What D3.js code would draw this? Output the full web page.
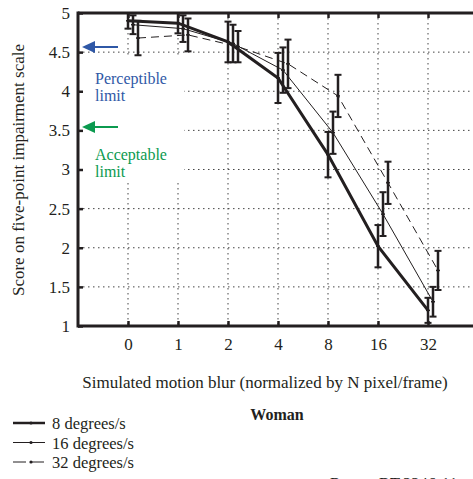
<!DOCTYPE html>
<html><head><meta charset="utf-8">
<script src="https://cdn.jsdelivr.net/npm/d3@7"></script>
<style>
html,body{margin:0;padding:0;background:#fff;overflow:hidden}
svg{display:block}
</style></head><body>
<svg id="c" width="473" height="479"></svg>
<script>
const categories = ["0","1","2","4","8","16","32"];
const yTicks = [1,1.5,2,2.5,3,3.5,4,4.5,5];
const seriesNames = ["8 degrees/s","16 degrees/s","32 degrees/s"];
const mean8  = [4.90,4.87,4.63,4.17,3.19,2.02,1.20];
const err8   = [0.10,0.13,0.26,0.32,0.29,0.27,0.16];
const mean16 = [4.85,4.80,4.61,4.27,3.47,2.43,1.31];
const err16  = [0.12,0.17,0.24,0.29,0.27,0.28,0.19];
const mean32 = [4.68,4.72,4.57,4.35,3.94,2.83,1.71];
const err32  = [0.22,0.21,0.20,0.31,0.27,0.27,0.25];
const limits = [{label:["Perceptible","limit"], value:4.6, color:"#2f58a6"},
                {label:["Acceptable","limit"], value:3.55, color:"#0b9a4f"}];

const FONT = "Liberation Serif, Times New Roman, Times, Tinos, Noto Serif, DejaVu Serif, FreeSerif, serif";
const INK = "#231f20";
const svg = d3.select("#c");
const x = d3.scaleLinear().domain([-1,8]).range([78,528]);
const y = d3.scaleLinear().domain([1,5]).range([326,13]);
const offsets = [0,0.1,0.2];
const series = [
  {name:seriesNames[0], m:mean8, e:err8, w:3, dash:null},
  {name:seriesNames[1], m:mean16, e:err16, w:1, dash:null},
  {name:seriesNames[2], m:mean32, e:err32, w:1, dash:"8,5"}
];
function txt(sel){ return sel.attr("font-family",FONT).style("font-family",FONT); }

// grid
const grid = svg.append("g").attr("stroke","#444").attr("stroke-width",1).attr("stroke-dasharray","1.5,3.5");
yTicks.filter(v=>v>1&&v<5).forEach(v=>{
  grid.append("line").attr("x1",x(-1)).attr("x2",473).attr("y1",y(v)).attr("y2",y(v));
});
categories.forEach((c,i)=>{
  grid.append("line").attr("x1",x(i)).attr("x2",x(i)).attr("y1",y(5)).attr("y2",y(1));
});
// white box behind limit labels
svg.append("rect").attr("x",x(-1)+1).attr("y",55).attr("width",105).attr("height",128).attr("fill","#fff");

// lines
const lineGen = (k)=>d3.line().x((d,i)=>x(i+offsets[k])).y(d=>y(d));
series.forEach((s,k)=>{
  svg.append("path").attr("d",lineGen(k)(s.m)).attr("fill","none").attr("stroke",INK)
    .attr("stroke-width",s.w).attr("stroke-dasharray",s.dash);
});
// error bars
series.forEach((s,k)=>{
  const g = svg.append("g").attr("stroke",INK);
  s.m.forEach((v,i)=>{
    const cx = x(i+offsets[k]);
    g.append("line").attr("x1",cx).attr("x2",cx).attr("y1",y(v+s.e[i])).attr("y2",y(v-s.e[i])).attr("stroke-width",2.5);
    [v+s.e[i],v-s.e[i]].forEach(t=>g.append("line").attr("x1",cx-3.5).attr("x2",cx+3.5).attr("y1",y(t)).attr("y2",y(t)).attr("stroke-width",2));
    g.append("line").attr("x1",cx-2).attr("x2",cx+2).attr("y1",y(v)).attr("y2",y(v)).attr("stroke-width",1.5);
  });
});

// axes frame
const frame = svg.append("g").attr("stroke",INK).attr("stroke-width",3);
frame.append("line").attr("x1",x(-1)).attr("x2",x(-1)).attr("y1",y(5)-1.5).attr("y2",y(1)+1.5);
frame.append("line").attr("x1",x(-1)).attr("x2",473).attr("y1",y(1)).attr("y2",y(1));
frame.append("line").attr("x1",x(-1)).attr("x2",473).attr("y1",y(5)).attr("y2",y(5));

// axes with ticks
const xAxis = d3.axisBottom(x).tickValues(d3.range(categories.length)).tickFormat(i=>categories[i]).tickSize(-5).tickPadding(12);
const gx = svg.append("g").attr("transform",`translate(0,${y(1)})`).call(xAxis);
gx.select(".domain").remove();
gx.selectAll(".tick line").attr("stroke",INK).attr("stroke-width",2.5);
txt(gx).selectAll(".tick text").attr("font-size",17).attr("fill",INK).call(txt);
const xTop = d3.axisTop(x).tickValues(d3.range(categories.length)).tickFormat("").tickSize(-5);
const gxt = svg.append("g").attr("transform",`translate(0,${y(5)})`).call(xTop);
gxt.select(".domain").remove();
gxt.selectAll(".tick line").attr("stroke",INK).attr("stroke-width",2.5);

const yAxis = d3.axisLeft(y).tickValues(yTicks).tickFormat(d=>d3.format("")(d)).tickSize(-5).tickPadding(8);
const gy = svg.append("g").attr("transform",`translate(${x(-1)},0)`).call(yAxis);
gy.select(".domain").remove();
gy.selectAll(".tick line").attr("stroke",INK).attr("stroke-width",2.5);
txt(gy).selectAll(".tick text").attr("font-size",17).attr("fill",INK).call(txt);

// limit arrows and labels
limits.forEach((L,k)=>{
  const ay = k===0 ? 47 : 127;
  svg.append("line").attr("x1",92).attr("x2",118).attr("y1",ay).attr("y2",ay).attr("stroke",L.color).attr("stroke-width",2);
  svg.append("path").attr("d",`M82,${ay} L95,${ay-6} L95,${ay+6} Z`).attr("fill",L.color);
  const ty = k===0 ? 84 : 160;
  L.label.forEach((t,j)=>svg.append("text").call(txt).attr("x",95).attr("y",ty+j*17).attr("font-size",16).attr("fill",L.color).text(t));
});

// axis titles
svg.append("text").call(txt).attr("x",265).attr("y",388).attr("text-anchor","middle").attr("font-size",17).attr("fill",INK)
  .text("Simulated motion blur (normalized by N pixel/frame)");
svg.append("text").call(txt).attr("transform","translate(24,170) rotate(-90)").attr("text-anchor","middle").attr("font-size",17).attr("fill",INK)
  .text("Score on five-point impairment scale");
svg.append("text").call(txt).attr("x",277).attr("y",420).attr("text-anchor","middle").attr("font-size",16).attr("font-weight","bold").attr("fill",INK)
  .text("Woman");

// legend
series.forEach((s,k)=>{
  const ly = 423 + k*19.5;
  svg.append("line").attr("x1",13).attr("x2",45).attr("y1",ly).attr("y2",ly).attr("stroke",INK)
    .attr("stroke-width",s.w===3?2.5:1).attr("stroke-dasharray",s.dash?"13,5":null);
  svg.append("circle").attr("cx",31).attr("cy",ly).attr("r",1.6).attr("fill",INK);
  svg.append("text").call(txt).attr("x",52).attr("y",ly+6).attr("font-size",16.5).attr("fill",INK).text(s.name);
});
svg.append("text").call(txt).attr("x",330).attr("y",489).attr("font-size",16.5).attr("fill",INK).text("Report BT.2246-11");
</script></body></html>
